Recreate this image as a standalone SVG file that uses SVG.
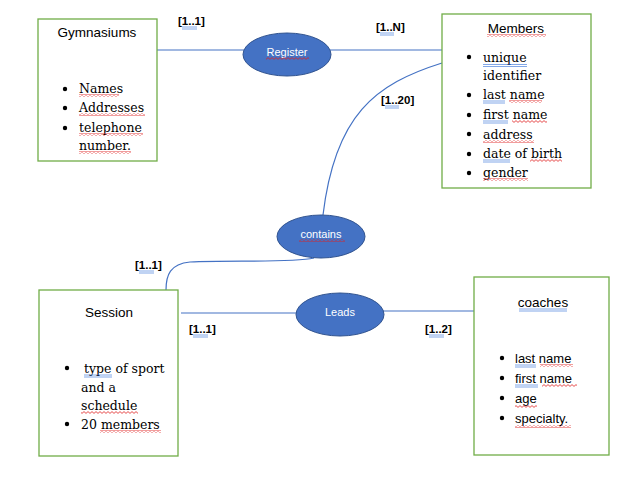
<svg xmlns="http://www.w3.org/2000/svg" width="635" height="485" viewBox="0 0 635 485">
<defs>
<pattern id="sq" width="4" height="3" patternUnits="userSpaceOnUse">
<path d="M0,0.6 L2,2.4 L4,0.6" fill="none" stroke="#e02020" stroke-width="0.8"/>
</pattern>
<style>
.box{fill:#fff;stroke:#70AD47;stroke-width:1.3}
.ell{fill:#4472C4;stroke:#2F528F;stroke-width:1}
.con{fill:none;stroke:#4472C4;stroke-width:1.2}
.title{font-family:"Liberation Sans",Arial,sans-serif;font-size:13.5px;fill:#000}
.ser{font-family:"DejaVu Serif","Liberation Serif",serif;font-size:12.5px;fill:#000}
.san{font-family:"Liberation Sans",Arial,sans-serif;font-size:13px;fill:#000}
.elab{font-family:"Liberation Sans",Arial,sans-serif;font-size:11px;fill:#fff;text-anchor:middle}
.card{font-family:"Liberation Sans",Arial,sans-serif;font-size:11.5px;font-weight:bold;fill:#000}
.dot{fill:#000}
.sq{fill:url(#sq)}
.bu{stroke:#2E6BD6;stroke-width:0.6;fill:none}
</style>
</defs>
<rect width="635" height="485" fill="#fff"/>

<g id="connectors">
<line class="con" x1="157" y1="50" x2="244" y2="50"/>
<line class="con" x1="330" y1="50" x2="442" y2="50"/>
<path class="con" d="M442,63 C375,84 335,115 323,215"/>
<path class="con" d="M314,258 C290,263 230,260 190,262 C170,264 166,275 166,290"/>
<line class="con" x1="181" y1="313" x2="297" y2="313"/>
<line class="con" x1="383" y1="311" x2="474" y2="311"/>
</g>

<g id="gymnasiums">
<rect class="box" x="38" y="19" width="119" height="142"/>
<text class="title" x="97" y="37" text-anchor="middle">Gymnasiums</text>
<circle class="dot" cx="65" cy="89" r="2.2"/>
<circle class="dot" cx="65" cy="108" r="2.2"/>
<circle class="dot" cx="65" cy="128" r="2.2"/>
<text class="ser" x="79" y="93">Names</text>
<text class="ser" x="79" y="112">Addresses</text>
<text class="ser" x="79" y="132">telephone</text>
<text class="ser" x="79" y="150">number.</text>
<rect class="sq" x="79" y="94" width="40" height="3"/>
<rect class="sq" x="79" y="113" width="66" height="3"/>
<rect class="sq" x="79" y="133" width="64" height="3"/>
<rect class="sq" x="79" y="151" width="52" height="3"/>
</g>

<g id="register">
<ellipse class="ell" cx="287" cy="54.5" rx="44" ry="21.5"/>
<text class="elab" x="287" y="56">Register</text>
<rect class="sq" x="266" y="57" width="43" height="3"/>
</g>

<g id="members">
<rect class="box" x="442" y="14" width="149" height="174"/>
<text class="title" x="516" y="33" text-anchor="middle">Members</text>
<rect class="sq" x="487" y="34" width="59" height="3"/>
<circle class="dot" cx="469" cy="57" r="2.2"/>
<circle class="dot" cx="469" cy="95" r="2.2"/>
<circle class="dot" cx="469" cy="115" r="2.2"/>
<circle class="dot" cx="469" cy="134" r="2.2"/>
<circle class="dot" cx="469" cy="154" r="2.2"/>
<circle class="dot" cx="469" cy="173" r="2.2"/>
<text class="ser" x="483" y="62">unique</text>
<text class="ser" x="483" y="80">identifier</text>
<text class="ser" x="483" y="99">last name</text>
<text class="ser" x="483" y="119">first name</text>
<text class="ser" x="483" y="139">address</text>
<text class="ser" x="483" y="158">date of birth</text>
<text class="ser" x="483" y="177">gender</text>
<path class="bu" d="M483,64.5 H527 M483,66.5 H527"/>
<path class="bu" d="M483,101 H505 M483,103 H505"/>
<rect class="sq" x="509" y="100" width="33" height="3"/>
<path class="bu" d="M483,121 H508 M483,123 H508"/>
<rect class="sq" x="512" y="120" width="35" height="3"/>
<rect class="sq" x="483" y="140" width="51" height="3"/>
<path class="bu" d="M483,160 H510 M483,162 H510"/>
<rect class="sq" x="530" y="159" width="32" height="3"/>
<rect class="sq" x="483" y="178" width="45" height="3"/>
</g>

<g id="contains">
<ellipse class="ell" cx="321" cy="236.5" rx="44" ry="21.5"/>
<text class="elab" x="321" y="238">contains</text>
<rect class="sq" x="299" y="239" width="46" height="3"/>
</g>

<g id="session">
<rect class="box" x="39" y="290" width="139" height="166"/>
<text class="title" x="109" y="317" text-anchor="middle">Session</text>
<circle class="dot" cx="67" cy="368" r="2.2"/>
<circle class="dot" cx="67" cy="424" r="2.2"/>
<text class="ser" x="84" y="373">type of sport</text>
<text class="ser" x="81" y="392">and a</text>
<text class="ser" x="81" y="410">schedule</text>
<text class="ser" x="81" y="429">20 members</text>
<path class="bu" d="M84,375 H112 M84,377 H112"/>
<rect class="sq" x="81" y="411" width="57" height="3"/>
<rect class="sq" x="100" y="430" width="61" height="3"/>
</g>

<g id="leads">
<ellipse class="ell" cx="340" cy="314.5" rx="44" ry="21.5"/>
<text class="elab" x="340" y="316">Leads</text>
</g>

<g id="coaches">
<rect class="box" x="474" y="277" width="135" height="178"/>
<text class="title" x="543" y="307" text-anchor="middle">coaches</text>
<path class="bu" d="M519,309 H567 M519,311 H567"/>
<circle class="dot" cx="502" cy="358" r="2.2"/>
<circle class="dot" cx="502" cy="378" r="2.2"/>
<circle class="dot" cx="502" cy="398" r="2.2"/>
<circle class="dot" cx="502" cy="418" r="2.2"/>
<text class="san" x="515" y="363">last name</text>
<text class="san" x="515" y="383">first name</text>
<text class="san" x="515" y="403">age</text>
<text class="san" x="515" y="423">specialty.</text>
<path class="bu" d="M515,365 H536 M515,367 H536"/>
<rect class="sq" x="540" y="364" width="33" height="3"/>
<path class="bu" d="M515,385 H538 M515,387 H538"/>
<rect class="sq" x="542" y="384" width="35" height="3"/>
<rect class="sq" x="515" y="405" width="22" height="3"/>
<rect class="sq" x="515" y="425" width="56" height="3"/>
</g>

<g id="cardinalities">
<text class="card" x="178" y="25">[1..1]</text>
<path class="bu" d="M182,27 H197 M182,29 H197"/>
<text class="card" x="376" y="31">[1..N]</text>
<path class="bu" d="M380,33 H394 M380,35 H394"/>
<text class="card" x="381" y="104">[1..20]</text>
<path class="bu" d="M385,106 H399 M385,108 H399"/>
<text class="card" x="135" y="269">[1..1]</text>
<path class="bu" d="M139,271 H154 M139,273 H154"/>
<text class="card" x="189" y="333">[1..1]</text>
<path class="bu" d="M193,335 H208 M193,337 H208"/>
<text class="card" x="425" y="333">[1..2]</text>
<path class="bu" d="M429,335 H444 M429,337 H444"/>
</g>
</svg>
